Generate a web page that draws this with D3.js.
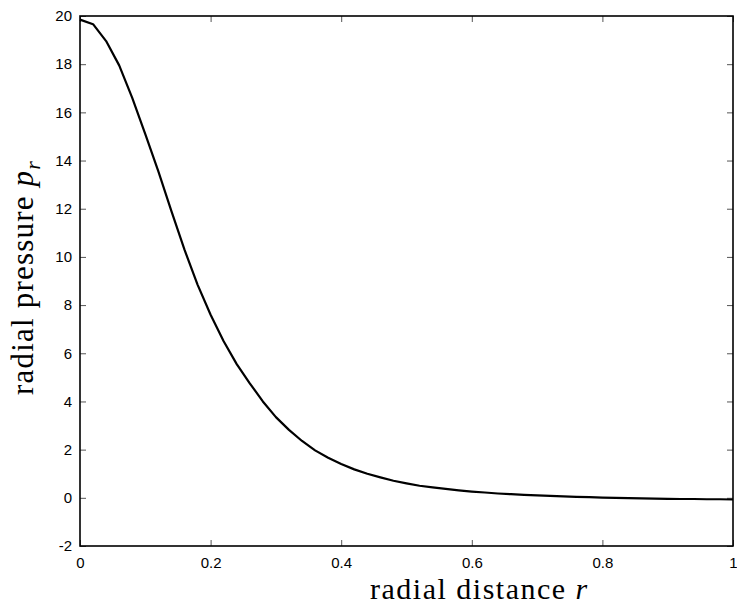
<!DOCTYPE html>
<html>
<head>
<meta charset="utf-8">
<script src="https://cdn.jsdelivr.net/npm/d3@7"></script>
<style>
    body { margin: 0; background: #fff; }
    .tick text { font-family: "Liberation Sans", Arial, sans-serif; font-size: 15px; fill: #000; }
    .tick line { stroke: #555; }
    .label { font-family: "Liberation Serif", "Times New Roman", serif; font-size: 31px; fill: #000; letter-spacing: 1.2px; }
</style>
</head>
<body>
<div id="chart"></div>
<script>
// radial distance samples
let radius = [0, 0.02, 0.04, 0.06, 0.08, 0.10, 0.12, 0.14, 0.16, 0.18,
    0.20, 0.22, 0.24, 0.26, 0.28, 0.30, 0.32, 0.34, 0.36, 0.38,
    0.40, 0.42, 0.44, 0.46, 0.48, 0.50, 0.52, 0.54, 0.56, 0.58,
    0.60, 0.62, 0.64, 0.66, 0.68, 0.70, 0.72, 0.74, 0.76, 0.78,
    0.80, 0.82, 0.84, 0.86, 0.88, 0.90, 0.92, 0.94, 0.96, 0.98, 1.00];

// radial pressure p_r
let pressure = [19.85, 19.66, 18.96, 17.95, 16.6, 15.1, 13.55, 11.9, 10.3, 8.85,
    7.6, 6.5, 5.55, 4.75, 4.0, 3.35, 2.82, 2.36, 1.97, 1.66,
    1.40, 1.18, 1.0, 0.85, 0.71, 0.6, 0.5, 0.43, 0.37, 0.31,
    0.26, 0.22, 0.18, 0.15, 0.12, 0.1, 0.08, 0.06, 0.04, 0.03,
    0.01, 0.0, -0.01, -0.02, -0.03, -0.04, -0.05, -0.05, -0.06, -0.06, -0.07];

let xTicks = [0, 0.2, 0.4, 0.6, 0.8, 1];
let yTicks = [-2, 0, 2, 4, 6, 8, 10, 12, 14, 16, 18, 20];

let width = 737, height = 604;
let margin = {top: 16, right: 4, bottom: 58, left: 80};
let w = width - margin.left - margin.right;
let h = height - margin.top - margin.bottom;

let svg = d3.select('#chart').append('svg')
    .attr('width', width)
    .attr('height', height)
    .append('g')
    .attr('transform', `translate(${margin.left},${margin.top})`);

let x = d3.scaleLinear().domain([0, 1]).range([0, w]);
let y = d3.scaleLinear().domain([-2, 20]).range([h, 0]);

// plain hyphen minus like the original
let fmt = function (d) { return String(d); };

// bottom + left axes with labels, ticks pointing inward
svg.append('g')
    .attr('transform', `translate(0,${h})`)
    .call(d3.axisBottom(x).tickValues(xTicks).tickSize(-6).tickPadding(11).tickFormat(fmt))
    .call(g => g.select('.domain').remove());

svg.append('g')
    .call(d3.axisLeft(y).tickValues(yTicks).tickSize(-6).tickPadding(8).tickFormat(fmt))
    .call(g => g.select('.domain').remove());

// mirrored ticks on top and right
svg.append('g')
    .call(d3.axisTop(x).tickValues(xTicks).tickSize(-6).tickFormat(''))
    .call(g => g.select('.domain').remove());

svg.append('g')
    .attr('transform', `translate(${w},0)`)
    .call(d3.axisRight(y).tickValues(yTicks).tickSize(-6).tickFormat(''))
    .call(g => g.select('.domain').remove());

// frame
svg.append('rect')
    .attr('x', 0).attr('y', 0)
    .attr('width', w).attr('height', h)
    .attr('fill', 'none')
    .attr('stroke', '#000')
    .attr('stroke-width', 1.6);

// the curve
let data = radius.map(function (r, i) { return {r: r, p: pressure[i]}; });

svg.append('path')
    .datum(data)
    .attr('fill', 'none')
    .attr('stroke', '#000')
    .attr('stroke-width', 2.2)
    .attr('stroke-linejoin', 'round')
    .attr('d', d3.line()
        .x(function (d) { return x(d.r); })
        .y(function (d) { return y(d.p); }));

// axis titles
let xLabel = svg.append('text')
    .attr('class', 'label')
    .style('font-size', '30px')
    .style('letter-spacing', '1.5px')
    .attr('x', 370 - margin.left)
    .attr('y', 599 - margin.top);
xLabel.append('tspan').text('radial distance ');
xLabel.append('tspan').attr('font-style', 'italic').text('r');

let yLabel = svg.append('text')
    .attr('class', 'label')
    .attr('transform', `translate(${33 - margin.left},${395 - margin.top}) rotate(-90)`);
yLabel.append('tspan').text('radial pressure ');
yLabel.append('tspan').attr('font-style', 'italic').text('p');
yLabel.append('tspan').attr('font-style', 'italic').attr('font-size', '22px').attr('dy', '0.3em').text('r');
</script>
</body>
</html>
